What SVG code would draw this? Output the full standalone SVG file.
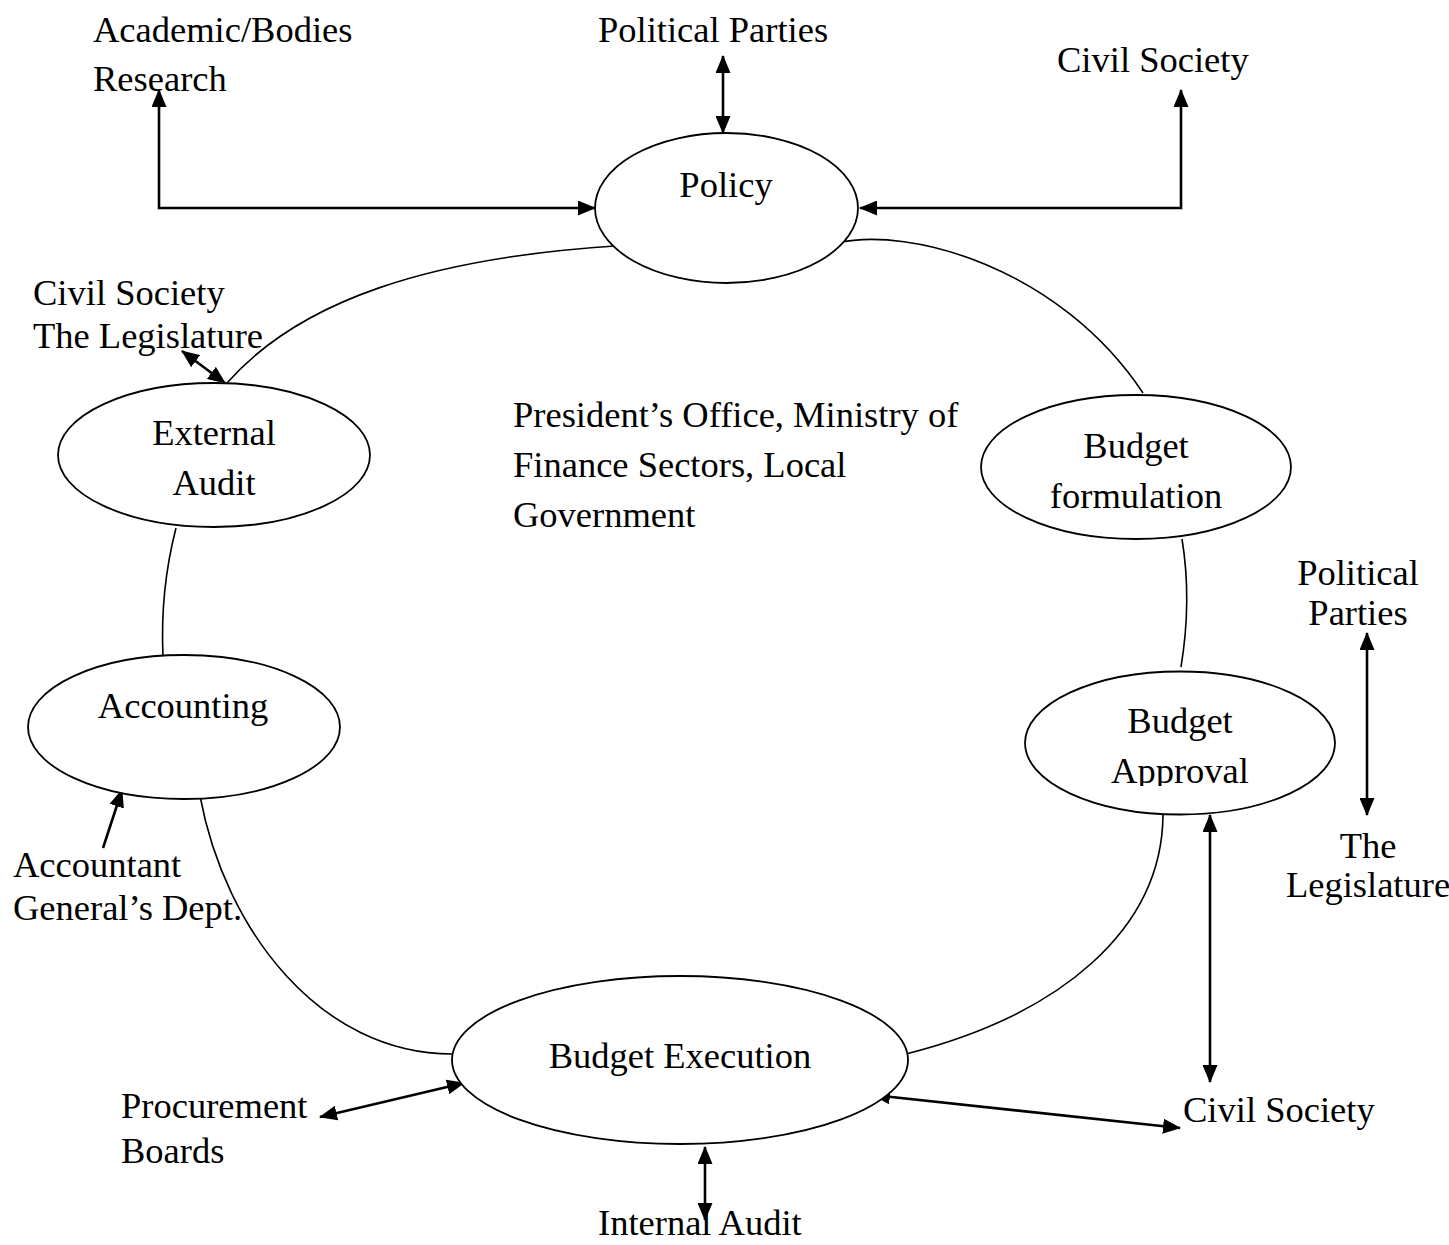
<svg xmlns="http://www.w3.org/2000/svg" width="1449" height="1245" viewBox="0 0 1449 1245">
<style>
text{font-family:"Liberation Serif","Times New Roman",serif;font-size:36.5px;fill:#000}
.c{text-anchor:middle}
.node{fill:#fff;stroke:#000;stroke-width:1.8}
.link{fill:none;stroke:#000;stroke-width:1.6}
.arr{fill:none;stroke:#000;stroke-width:2.6;marker-start:url(#ah);marker-end:url(#ah)}
.arr1{fill:none;stroke:#000;stroke-width:2.6;marker-end:url(#ah)}
</style>
<defs>
<marker id="ah" markerUnits="userSpaceOnUse" markerWidth="18" markerHeight="15" refX="17" refY="7.5" orient="auto-start-reverse"><path d="M0,0 L18,7.5 L0,15 z" fill="#000"/></marker>
<clipPath id="clipApp"><rect x="1000" y="660" width="360" height="126"/></clipPath>
</defs>
<rect width="1449" height="1245" fill="#fff"/>
<g id="connectors">
<path class="link" d="M227,383 C300,300 430,258 615,246"/>
<path class="link" d="M837,243 C910,226 1060,268 1143,393"/>
<path class="link" d="M1182,539 Q1192,600 1181,667"/>
<path class="link" d="M1163,815 C1162,930 1060,1015 906,1054"/>
<path class="link" d="M200,796 C225,930 320,1054 452,1054"/>
<path class="link" d="M176,528 Q160,590 163,656"/>
<path class="arr" d="M159,90 V208 H595"/>
<path class="arr" d="M1181,90 V208 H860"/>
<path class="arr" d="M723,56 V133"/>
<path class="arr" d="M182,351 L225,383"/>
<path class="arr1" d="M103,848 L122,790"/>
<path class="arr" d="M1367,633 V815"/>
<path class="arr" d="M1210,815 V1082"/>
<path class="arr" d="M873,1095 L1180,1128"/>
<path class="arr" d="M320,1117 L464,1083"/>
<path class="arr" d="M705,1147 V1220"/>
</g>
<g id="policy"><ellipse class="node" cx="726.5" cy="208" rx="131.5" ry="75"/><text class="c" x="726" y="197">Policy</text></g>
<g id="external-audit"><ellipse class="node" cx="214" cy="455" rx="156" ry="72"/><text class="c" x="214" y="445">External</text><text class="c" x="214" y="495">Audit</text></g>
<g id="budget-formulation"><ellipse class="node" cx="1136" cy="467" rx="155" ry="72"/><text class="c" x="1136" y="458">Budget</text><text class="c" x="1136" y="508">formulation</text></g>
<g id="budget-approval"><ellipse class="node" cx="1180" cy="743" rx="155" ry="71.5"/><text class="c" x="1180" y="733">Budget</text><text class="c" x="1180" y="783" clip-path="url(#clipApp)">Approval</text></g>
<g id="accounting"><ellipse class="node" cx="184" cy="727" rx="156" ry="72"/><text class="c" x="183" y="718">Accounting</text></g>
<g id="budget-execution"><ellipse class="node" cx="680" cy="1060" rx="228" ry="84"/><text class="c" x="680" y="1068">Budget Execution</text></g>
<g id="academic"><text x="93" y="42">Academic/Bodies</text><text x="93" y="91">Research</text></g>
<g id="political-parties-top"><text x="598" y="42">Political Parties</text></g>
<g id="civil-society-top"><text x="1057" y="72">Civil Society</text></g>
<g id="civil-legislature-left"><text x="33" y="305">Civil Society</text><text x="33" y="348">The Legislature</text></g>
<g id="centre"><text x="513" y="427">President’s Office, Ministry of</text><text x="513" y="477">Finance Sectors, Local</text><text x="513" y="527">Government</text></g>
<g id="political-parties-right"><text class="c" x="1358" y="585">Political</text><text class="c" x="1358" y="625">Parties</text></g>
<g id="legislature-right"><text class="c" x="1368" y="858">The</text><text class="c" x="1368" y="897">Legislature</text></g>
<g id="accountant"><text x="13" y="877">Accountant</text><text x="13" y="920">General’s Dept.</text></g>
<g id="procurement"><text x="121" y="1118">Procurement</text><text x="121" y="1163">Boards</text></g>
<g id="civil-society-bottom"><text x="1183" y="1122">Civil Society</text></g>
<g id="internal-audit"><text x="598" y="1235">Internal Audit</text></g>
</svg>
